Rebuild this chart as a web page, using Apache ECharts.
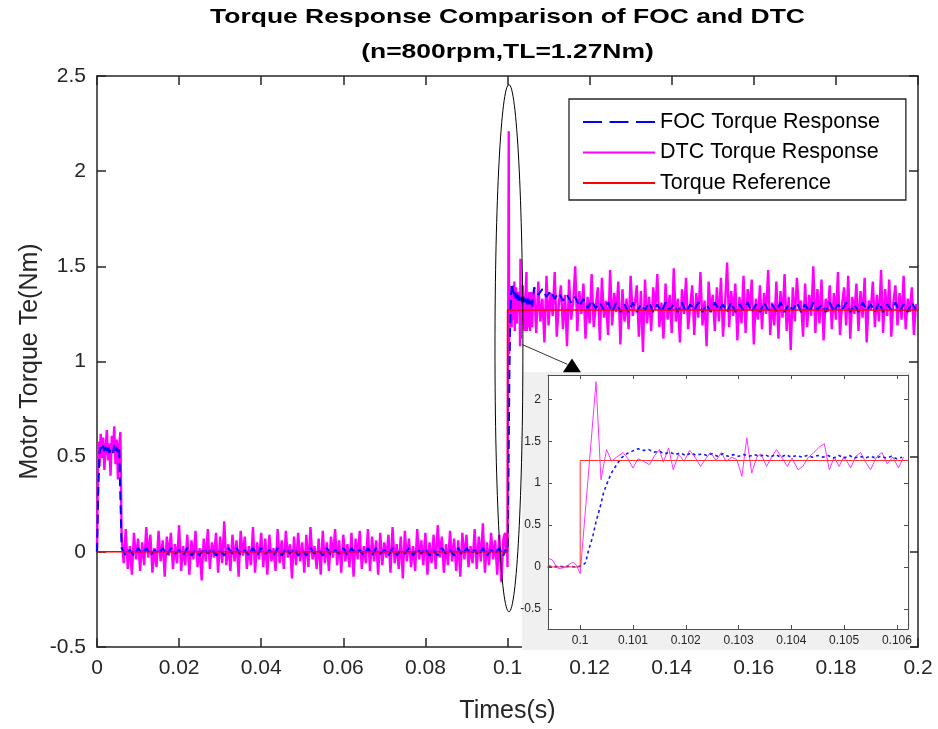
<!DOCTYPE html>
<html><head><meta charset="utf-8">
<script src="https://cdn.jsdelivr.net/npm/echarts@6/dist/echarts.min.js"></script>
<style>html,body{margin:0;padding:0;background:#fff}#c{width:938px;height:729px}</style>
</head><body><div id="c"></div>
<script>
// ---------------- data ----------------
const titleLines = ['Torque Response Comparison of FOC and DTC', '(n=800rpm,TL=1.27Nm)'];
const seriesNames = ['FOC Torque Response', 'DTC Torque Response', 'Torque Reference'];
const xAxisName = 'Times(s)';
const yAxisName = 'Motor Torque Te(Nm)';

const mainXTicks = [0, 0.02, 0.04, 0.06, 0.08, 0.1, 0.12, 0.14, 0.16, 0.18, 0.2];
const mainYTicks = [-0.5, 0, 0.5, 1, 1.5, 2, 2.5];
const insetXTicks = [0.1, 0.101, 0.102, 0.103, 0.104, 0.105, 0.106];
const insetYTicks = [-0.5, 0, 0.5, 1, 1.5, 2];
const insetXRange = [0.09939, 0.10621];
const insetYRange = [-0.74, 2.29];

// torque reference
const refTimes = [0, 0.1, 0.1, 0.2];
const refValues = [0, 0, 1.27, 1.27];

// DTC: start-up segment (t = 0 .. 0.0057, every 0.0003 s)
const dtcStartupStart = 0, dtcStartupStep = 0.0003;
const dtcStartup = [0, 0.58, 0.45, 0.62, 0.50, 0.60, 0.43, 0.55, 0.64, 0.48, 0.57, 0.40, 0.61, 0.52, 0.66, 0.46, 0.59, 0.38, 0.56, 0.63];
// DTC: idle segment (t = 0.006 .. 0.099, every 0.0005 s)
const dtcIdleStart = 0.006, dtcIdleStep = 0.0005;
const dtcIdle = [
0.08,-0.06,0.12,-0.09,0.03,-0.12,0.10,-0.04,0.07,-0.10,
0.05,-0.07,0.13,-0.03,0.09,-0.11,0.02,-0.08,0.11,-0.05,
0.06,-0.13,0.08,-0.02,0.10,-0.09,0.04,-0.06,0.14,-0.10,
0.03,-0.07,0.09,-0.12,0.06,-0.04,0.11,-0.08,0.02,-0.15,
0.07,-0.05,0.12,-0.09,0.05,-0.03,0.10,-0.11,0.08,-0.06,
0.16,-0.07,0.04,-0.10,0.09,-0.05,0.06,-0.13,0.11,-0.02,
0.08,-0.09,0.03,-0.07,0.13,-0.11,0.05,-0.04,0.10,-0.08,
0.07,-0.12,0.09,-0.05,0.02,-0.10,0.12,-0.06,0.06,-0.09,
0.11,-0.03,0.04,-0.14,0.08,-0.07,0.10,-0.05,0.05,-0.11,
0.09,-0.08,0.13,-0.04,0.03,-0.09,0.07,-0.12,0.11,-0.06,
0.05,-0.10,0.08,-0.03,0.12,-0.07,0.06,-0.11,0.09,-0.05,
0.04,-0.08,0.10,-0.13,0.07,-0.04,0.11,-0.09,0.03,-0.06,
0.12,-0.10,0.08,-0.05,0.06,-0.12,0.10,-0.07,0.05,-0.03,
0.09,-0.11,0.13,-0.06,0.04,-0.09,0.08,-0.14,0.11,-0.05,
0.07,-0.08,0.03,-0.10,0.12,-0.04,0.06,-0.07,0.10,-0.12,
0.05,-0.06,0.09,-0.09,0.14,-0.03,0.08,-0.11,0.04,-0.07,
0.11,-0.05,0.07,-0.10,0.06,-0.13,0.10,-0.04,0.09,-0.08,
0.03,-0.06,0.12,-0.09,0.08,-0.05,0.15,-0.11,0.05,-0.07,
0.10,-0.04,0.06,-0.12,0.09,-0.16,0.07];
// DTC: step detail
const dtcStepTimes = [0.099406,0.099469,0.099563,0.099625,0.099719,0.099813,0.099875,0.099938,0.1,0.1003,
0.100394,0.1005,0.100594,0.100688,0.100813,0.100906,0.101,0.101094,0.1012,0.101313,
0.101406,0.1015,0.101575,0.101675,0.101763,0.101863,0.101969,0.102075,0.102175,0.102281,
0.102375,0.102469,0.102575,0.102675,0.102763,0.102875,0.102969,0.103063,0.103156,0.10325,
0.103344,0.103425,0.103531,0.103625,0.103719,0.103825,0.103925,0.104013,0.104125,0.104219,
0.104313,0.104425,0.104531,0.104625,0.104719,0.104813,0.104906,0.105,0.105125,0.105219,
0.105313,0.105406,0.1055,0.105613,0.105719,0.105813,0.105925,0.106031,0.106125];
const dtcStepValues = [0.1,0.087,-0.01,-0.02,0,0.04,0.055,0.01,-0.08,2.21,
1.04,1.40,1.26,1.31,1.365,1.29,1.18,1.29,1.26,1.22,
1.325,1.40,1.25,1.42,1.16,1.34,1.26,1.39,1.31,1.2,
1.29,1.365,1.27,1.365,1.26,1.31,1.28,1.08,1.54,1.12,
1.31,1.35,1.2,1.31,1.4,1.30,1.2,1.30,1.16,1.2,
1.30,1.365,1.43,1.47,1.16,1.31,1.2,1.32,1.18,1.32,
1.365,1.25,1.16,1.31,1.365,1.23,1.31,1.18,1.31];
// DTC: loaded segment (t = 0.1065 .. 0.2, every 0.0005 s)
const dtcLoadedStart = 0.1065, dtcLoadedStep = 0.0005;
const dtcLoaded = [
1.38,1.15,1.42,1.21,1.33,1.10,1.45,1.19,1.36,1.24,
1.47,1.13,1.30,1.40,1.17,1.35,1.08,1.43,1.22,1.31,
1.50,1.16,1.37,1.25,1.41,1.12,1.34,1.20,1.46,1.18,
1.29,1.39,1.11,1.44,1.23,1.32,1.14,1.48,1.19,1.36,
1.26,1.42,1.09,1.38,1.21,1.33,1.17,1.45,1.24,1.30,
1.40,1.13,1.37,1.05,1.43,1.20,1.34,1.16,1.39,1.27,
1.46,1.18,1.31,1.12,1.41,1.22,1.35,1.15,1.49,1.21,
1.33,1.10,1.38,1.25,1.44,1.17,1.29,1.40,1.14,1.36,
1.23,1.47,1.19,1.32,1.08,1.42,1.26,1.35,1.16,1.39,
1.21,1.44,1.13,1.30,1.52,1.18,1.37,1.24,1.41,1.11,
1.34,1.20,1.45,1.15,1.38,1.27,1.43,1.09,1.33,1.22,
1.40,1.17,1.36,1.25,1.48,1.14,1.31,1.19,1.42,1.12,
1.37,1.23,1.46,1.16,1.34,1.06,1.39,1.21,1.44,1.28,
1.32,1.13,1.41,1.18,1.35,1.24,1.50,1.15,1.38,1.20,
1.43,1.11,1.33,1.26,1.40,1.17,1.36,1.22,1.47,1.14,
1.30,1.39,1.19,1.45,1.12,1.34,1.25,1.41,1.16,1.37,
1.23,1.44,1.10,1.32,1.27,1.42,1.18,1.35,1.21,1.48,
1.15,1.38,1.24,1.43,1.13,1.31,1.40,1.19,1.36,1.22,
1.45,1.17,1.33,1.26,1.39,1.14,1.30,1.28];

// FOC: start-up segment (every 0.0003 s)
const focStartupStart = 0, focStartupStep = 0.0003;
const focStartup = [0, 0.30, 0.52, 0.55, 0.53, 0.56, 0.52, 0.55, 0.53, 0.56, 0.52, 0.54, 0.55, 0.52, 0.56, 0.53, 0.55, 0.52, 0.54, 0.55];
// FOC: idle segment (t = 0.006 .. 0.099, every 0.001 s)
const focIdleStart = 0.006, focIdleStep = 0.001;
const focIdle = [
0.02,-0.02,0.01,-0.02,0.02,-0.01,0.02,-0.02,0.01,-0.01,
0.02,-0.02,0.02,-0.01,0.01,-0.02,0.02,-0.02,0.01,-0.02,
0.02,-0.01,0.02,-0.02,0.01,-0.02,0.02,-0.01,0.02,-0.02,
0.01,-0.02,0.02,-0.02,0.02,-0.01,0.01,-0.02,0.02,-0.02,
0.02,-0.01,0.02,-0.02,0.01,-0.02,0.02,-0.01,0.01,-0.02,
0.02,-0.02,0.01,-0.01,0.02,-0.02,0.02,-0.01,0.01,-0.02,
0.02,-0.02,0.02,-0.01,0.01,-0.02,0.02,-0.02,0.01,-0.01,
0.02,-0.02,0.02,-0.01,0.02,-0.02,0.01,-0.02,0.02,-0.01,
0.01,-0.02,0.02,-0.02,0.02,-0.01,0.01,-0.02,0.02,-0.02,
0.01,-0.01,0.02,-0.02];
// FOC: step rise
const focRiseTimes = [0.0994,0.0995,0.0996,0.0997,0.0998,0.0999,0.1,0.10005,0.1001,0.10016,0.10024,0.1003,0.10038,0.10044,0.10051,0.10059,0.10069,0.10078,0.10088,0.101];
const focRiseValues = [0.01,0.0,0.01,0.0,0.01,0.0,0.01,0.02,0.05,0.2,0.37,0.54,0.72,0.88,1.0,1.12,1.22,1.30,1.35,1.385];
// FOC: plateau after rise (t = 0.1011 .. 0.1061, every 0.0001 s)
const focPlateauStart = 0.1011, focPlateauStep = 0.0001;
const focPlateau = [
1.41,1.39,1.40,1.37,1.38,1.35,1.37,1.34,1.36,1.33,
1.36,1.33,1.35,1.33,1.35,1.32,1.35,1.32,1.34,1.32,
1.34,1.32,1.34,1.32,1.34,1.31,1.34,1.31,1.34,1.31,
1.33,1.31,1.33,1.31,1.33,1.31,1.33,1.30,1.33,1.30,
1.33,1.30,1.32,1.30,1.32,1.30,1.32,1.30,1.32,1.29,1.31];
// FOC: loaded segment (t = 0.1065 .. 0.1995, every 0.001 s)
const focLoadedStart = 0.1065, focLoadedStep = 0.001;
const focLoaded = [
1.39,1.35,1.38,1.34,1.37,1.33,1.36,1.32,1.35,1.31,
1.34,1.29,1.33,1.28,1.32,1.28,1.31,1.27,1.31,1.26,
1.31,1.26,1.30,1.26,1.31,1.26,1.30,1.27,1.31,1.26,
1.30,1.26,1.31,1.27,1.30,1.26,1.31,1.26,1.30,1.27,
1.31,1.26,1.30,1.26,1.31,1.27,1.30,1.26,1.31,1.26,
1.30,1.27,1.31,1.26,1.30,1.26,1.31,1.27,1.30,1.26,
1.31,1.26,1.30,1.27,1.31,1.26,1.30,1.26,1.31,1.27,
1.30,1.26,1.31,1.26,1.30,1.27,1.31,1.26,1.30,1.26,
1.31,1.27,1.30,1.26,1.31,1.26,1.30,1.27,1.31,1.26,
1.30,1.26,1.31,1.27];

// annotation anchors in data units (main axes)
const ellipseCenter = [0.10035, 1.07], ellipseHalf = [0.0034, 1.385];
const arrowFrom = [0.1035, 1.09], arrowTo = [0.1146, 0.985];
const arrowHead = [[0.1157, 1.016], [0.1135, 0.943], [0.1179, 0.943]];

// ---------------- build ----------------
const seg = (start, step, vals) => vals.map((v, i) => [+(start + i * step).toFixed(7), v]);
const zip = (ts, vs) => ts.map((t, i) => [t, vs[i]]);

const refData = zip(refTimes, refValues);
const dtcStepData = zip(dtcStepTimes, dtcStepValues);
const focStepData = zip(focRiseTimes, focRiseValues).concat(seg(focPlateauStart, focPlateauStep, focPlateau));
const dtcData = seg(dtcStartupStart, dtcStartupStep, dtcStartup)
  .concat(seg(dtcIdleStart, dtcIdleStep, dtcIdle), dtcStepData, seg(dtcLoadedStart, dtcLoadedStep, dtcLoaded));
const focData = seg(focStartupStart, focStartupStep, focStartup)
  .concat(seg(focIdleStart, focIdleStep, focIdle), focStepData, seg(focLoadedStart, focLoadedStep, focLoaded));

const FONT = 'Liberation Sans, Arial, Helvetica, sans-serif';
const AX = '#262626';
const fmt = d => v => String(parseFloat(v.toFixed(d)));

function boxAxis(gridIndex, pos, min, max, opts) {
  const a = {
    type: 'value', gridIndex, position: pos, min, max, scale: false,
    splitLine: { show: false },
    axisLine: { show: true, onZero: false, lineStyle: { color: opts.lineColor, width: opts.lineWidth } },
    axisTick: { show: true, inside: true, length: opts.tickLen, lineStyle: { color: opts.lineColor, width: opts.lineWidth } },
    axisLabel: { show: opts.labels, color: AX, fontFamily: FONT, fontSize: opts.fontSize, margin: opts.margin, formatter: opts.formatter, showMinLabel: true, showMaxLabel: true },
    z: opts.z
  };
  if (opts.interval) a.interval = opts.interval;
  if (opts.custom) {
    a.axisTick.customValues = opts.custom;
    a.axisLabel.customValues = opts.custom;
  }
  return a;
}

const mainX = { lineColor: AX, lineWidth: 1.5, tickLen: 9, fontSize: 21, margin: 11, interval: 0.02, formatter: fmt(2), z: 1 };
const mainY = { lineColor: AX, lineWidth: 1.5, tickLen: 9, fontSize: 21, margin: 11, interval: 0.5, formatter: fmt(1), z: 1 };
const insX = { lineColor: '#4d4d4d', lineWidth: 1, tickLen: 4, fontSize: 12, margin: 6, custom: insetXTicks, formatter: fmt(3), z: 8 };
const insY = { lineColor: '#4d4d4d', lineWidth: 1, tickLen: 4, fontSize: 12, margin: 7, custom: insetYTicks, formatter: fmt(1), z: 8 };

const xAxes = [
  Object.assign(boxAxis(0, 'bottom', 0, 0.2, Object.assign({ labels: true }, mainX)), {
    name: xAxisName, nameLocation: 'middle', nameGap: 52, nameMoveOverlap: false,
    nameTextStyle: { fontFamily: FONT, fontSize: 25, color: AX }
  }),
  boxAxis(0, 'top', 0, 0.2, Object.assign({}, mainX, { labels: false })),
  boxAxis(1, 'bottom', insetXRange[0], insetXRange[1], Object.assign({ labels: true }, insX)),
  boxAxis(1, 'top', insetXRange[0], insetXRange[1], Object.assign({}, insX, { labels: false }))
];
const yAxes = [
  Object.assign(boxAxis(0, 'left', -0.5, 2.5, Object.assign({ labels: true }, mainY)), {
    name: yAxisName, nameLocation: 'middle', nameGap: 54, nameRotate: 90, nameMoveOverlap: false,
    nameTextStyle: { fontFamily: FONT, fontSize: 25, color: AX }
  }),
  boxAxis(0, 'right', -0.5, 2.5, Object.assign({}, mainY, { labels: false })),
  boxAxis(1, 'left', insetYRange[0], insetYRange[1], Object.assign({ labels: true }, insY)),
  boxAxis(1, 'right', insetYRange[0], insetYRange[1], Object.assign({}, insY, { labels: false }))
];

function line(name, data, gi, color, width, type, z) {
  return {
    type: 'line', name, data, xAxisIndex: gi === 0 ? 0 : 2, yAxisIndex: gi === 0 ? 0 : 2,
    showSymbol: false, symbol: 'none', clip: true, animation: false, silent: true,
    lineStyle: { color, width, type }, itemStyle: { color }, z
  };
}

const series = [
  line(seriesNames[0], focData, 0, '#0000ff', 2, [9, 5], 3),
  line(seriesNames[1], dtcData, 0, '#ff00ff', 2.4, 'solid', 2),
  line(seriesNames[2], refData, 0, '#ff0000', 1.5, 'solid', 4),
  line(seriesNames[1], dtcStepData, 1, '#ff33ff', 1, 'solid', 7),
  line(seriesNames[0], focStepData, 1, '#1a1aff', 1.6, [3, 3], 7),
  line(seriesNames[2], refData, 1, '#ff3333', 1, 'solid', 7)
];

const ICON_SOLID = 'path://M0,0h72v2h-72z';
const ICON_DASHED = 'path://M0,0h19v2h-19zM26.5,0h19v2h-19zM53,0h19v2h-19z';

const chart = echarts.init(document.getElementById('c'), null, { renderer: 'canvas' });
const option = {
  animation: false,
  backgroundColor: '#ffffff',
  grid: [
    { left: 97, right: 20, top: 76, bottom: 81, containLabel: false },
    { left: 548, right: 30, top: 375, bottom: 100, containLabel: false, show: true, backgroundColor: '#ffffff', borderWidth: 0, z: 6 }
  ],
  legend: {
    show: true,
    orient: 'vertical', left: 569, top: 99, padding: [12, 26, 6, 14], itemGap: 8.5,
    itemWidth: 72, itemHeight: 2, backgroundColor: '#ffffff', borderColor: AX, borderWidth: 1.3,
    selectedMode: false, z: 20,
    textStyle: { fontFamily: FONT, fontSize: 21.5, color: '#000' },
    data: [
      { name: seriesNames[0], icon: ICON_DASHED },
      { name: seriesNames[1], icon: ICON_SOLID },
      { name: seriesNames[2], icon: ICON_SOLID }
    ]
  },
  xAxis: xAxes,
  yAxis: yAxes,
  series
};
chart.setOption(option);

// annotations: title, grey inset panel, ellipse and arrow (placed through the main axes)
const px = p => chart.convertToPixel({ xAxisIndex: 0, yAxisIndex: 0 }, p);
const c = px(ellipseCenter);
const e = px([ellipseCenter[0] + ellipseHalf[0], ellipseCenter[1] + ellipseHalf[1]]);
const a0 = px(arrowFrom), a1 = px(arrowTo);
const head = arrowHead.map(px);
const titleX = (px([0, 0])[0] + px([0.2, 0])[0]) / 2;
chart.setOption({
  graphic: [
    { type: 'text', x: titleX, y: 17, scaleX: 1.26, z: 20, silent: true,
      style: { text: titleLines[0], font: 'bold 21px ' + FONT, fill: '#000', align: 'center', verticalAlign: 'middle' } },
    { type: 'text', x: titleX, y: 52, scaleX: 1.26, z: 20, silent: true,
      style: { text: titleLines[1], font: 'bold 21px ' + FONT, fill: '#000', align: 'center', verticalAlign: 'middle' } },
    { type: 'rect', shape: { x: 522, y: 372, width: 388, height: 278 }, style: { fill: '#f0f0f0' }, z: 5, silent: true },
    { type: 'ellipse', shape: { cx: c[0], cy: c[1], rx: e[0] - c[0], ry: c[1] - e[1] }, style: { fill: 'none', stroke: '#000', lineWidth: 1 }, z: 9, silent: true },
    { type: 'line', shape: { x1: a0[0], y1: a0[1], x2: a1[0], y2: a1[1] }, style: { stroke: '#333', lineWidth: 1 }, z: 9, silent: true },
    { type: 'polygon', shape: { points: head }, style: { fill: '#000' }, z: 9, silent: true }
  ]
});
</script></body></html>
